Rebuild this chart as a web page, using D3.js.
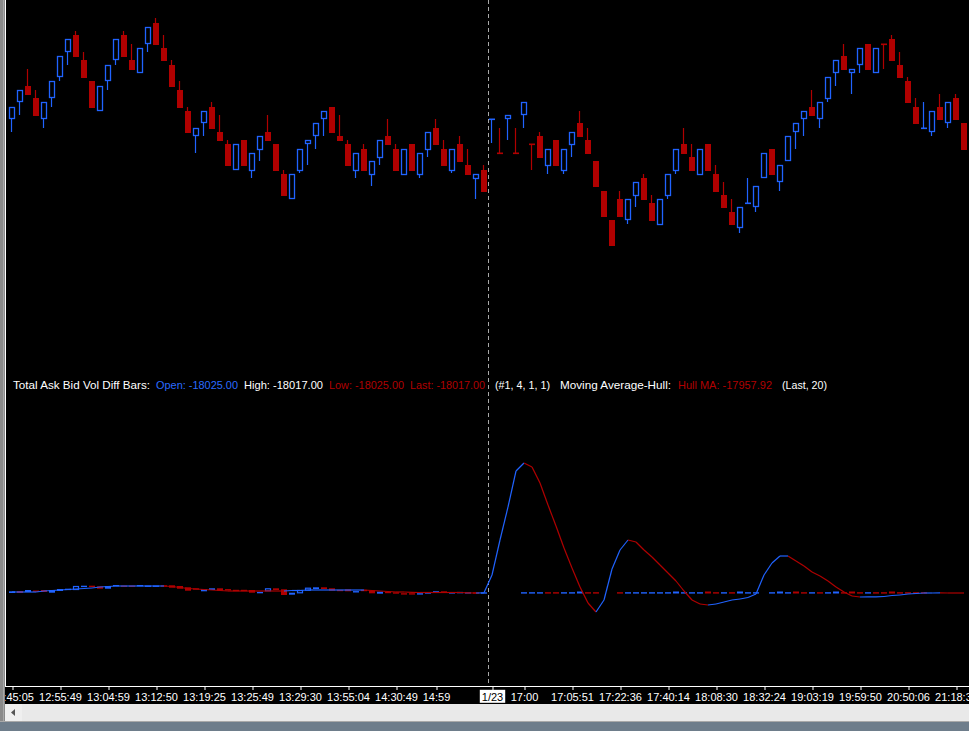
<!DOCTYPE html>
<html><head><meta charset="utf-8">
<script src="https://cdn.jsdelivr.net/npm/d3@7"></script>
<style>html,body{margin:0;padding:0;background:#000;overflow:hidden}svg{display:block}</style>
</head><body>
<svg id="c" width="969" height="731"></svg>
<script>
// ---- main price candles (price units) ----
const candleOpen = [181,198,214,202,181,202,223,248,265,240,219,189,219,240,265,240,227,256,277,252,235,210,189,164,177,193,168,156,130,160,129,150,168,156,126,101,129,156,164,181,193,164,156,129,151,125,142,164,151,125,156,125,150,172,151,129,156,135,121,130,180.5,147.5,181,147.5,185,156,164,134,160,129,155,177,160,139,109,80,101,80,104,122,97,75,104,129,156,143,125,156,126,105,88,72,97,93,122,151,118,139,168,181,193,181,201,227,244,227,235,256,227,256,261,235,219,193,172,168,193,177,202,177];
const candleHigh = [193,210,231,210,198,219,244,261,269,248,219,214,235,261,269,256,252,273,282,265,240,219,193,172,189,198,185,160,156,160,147,164,185,156,130,126,151,160,177,189,193,185,160,147,156,139,160,181,156,151,156,147,168,181,160,151,164,151,126,135,181,172,185,172,198,156,168,151,160,151,168,189,172,139,109,80,109,101,118,126,105,101,126,151,172,156,151,156,135,118,101,93,122,114,147,151,135,164,177,189,210,198,223,240,256,231,252,256,252,256,265,248,223,202,198,189,206,198,206,177];
const candleLow = [168,185,205,184,172,193,219,235,243,222,192,189,210,235,243,230,227,248,255,239,213,192,167,147,164,171,159,134,130,134,122,139,159,129,104,101,127,135,151,164,167,159,134,122,129,114,135,155,129,125,129,122,143,155,134,127,138,125,101,108,157,147,160,147,172,130,142,126,134,126,143,163,146,113,83,54,83,76,93,100,79,75,101,126,146,129,125,129,108,92,75,67,97,88,122,125,109,139,151,164,184,172,198,214,230,206,227,230,227,231,239,222,197,176,172,164,180,172,180,150];
const candleClose = [193,210,205,184,198,219,244,261,243,222,192,214,235,261,243,230,252,273,255,239,213,192,167,172,189,171,159,134,156,134,147,164,159,129,104,126,151,160,177,189,167,159,134,147,129,139,160,155,129,151,129,147,168,155,134,151,138,125,126,108,181,147,185,147,198,155.5,142,151,134,151,168,163,146,113,83,54,83,101,118,100,79,101,126,151,146,129,151,129,108,92,75,93,97.5,114,147,125,135,164,177,189,184,198,223,240,230,231,252,230,252,255.5,239,222,197,176,172.5,189,180,198,180,150];

// ---- lower panel: Total Ask Bid Vol Diff Bars ----
const barOpen = [-1,1,0,1.5,2,-0.7,1,3,2,6,6.3,5.7,3.3,6,6.5,6.5,5.7,6.2,6.2,6.7,6.7,6,4.7,3.7,0.7,2,3.7,2.9,2.2,2.2,2,-0.2,0.7,3.7,2.7,-2.7,-1.3,1.3,3,4.7,3.7,2.2,2.7,0.6,2.2,1.3,-1.7,0.2,-0.3,-1.2,-1.2,-1.5,-1.3,0.5,0.7,-0.5,-0.2,-0.5,-0.3,-1.3,
  null,null,null,null,-0.5,-0.5,-0.5,-0.2,-0.2,-0.5,-0.5,-1.5,-0.2,-0.2,null,null,-0.2,-0.5,-0.5,-0.5,-0.5,-0.5,-0.5,-1.5,-0.5,-0.5,-0.5,0.5,-0.2,-0.5,-0.2,-1.5,-0.5,-0.5,null,-0.5,-1.5,-0.5,0.5,-0.2,-0.5,-0.2,-0.5,-1.5,-0.2,0.5,-0.2,-0.5,-0.2,-0.2,0.5,-0.2,-0.2,-0.2,-0.2,null,null,null,null,null];
const barClose = [0.7,-1,2,1.2,0,2,3,3.3,6,6.3,6,3.3,6,7,6.2,6.2,7,6.5,6.5,5.7,4.3,3.3,1.3,2.5,3,3.7,1.3,2.6,1.9,1.9,-0.7,0.1,3.7,2,-3,-0.7,2,4.3,4.7,3,1.3,1.9,0.7,0.9,1.9,-1.3,0.3,-0.1,-1.3,-1.5,-1.5,-1.2,-0.3,0.8,-1,-0.2,0.1,-0.2,-1.3,-0.3,
  null,null,null,null,-0.2,-0.2,-0.2,-0.5,-0.5,-0.2,-0.2,0.5,-0.5,-0.5,null,null,-0.5,-0.2,-0.2,-0.2,-0.2,-0.2,-0.2,0.5,-0.2,-0.2,-0.2,-1.5,-0.5,-0.2,-0.5,0.5,-0.2,-0.2,null,-0.2,0.5,-0.2,-1.5,-0.5,-0.2,-0.5,-0.2,0.5,-0.5,-1.5,-0.5,-0.2,-0.5,-0.5,-1.5,-0.5,-0.5,-0.5,-0.5,null,null,null,null,null];
// ---- Moving Average-Hull ----
const hullMA = [0,0,0,0,1,1.5,2,2.5,3,3.5,4,5,5.5,6,6,6,6,6,6,6,5.5,4.5,3.5,3,2.5,2,1.5,1,1,1,1,1,1,1,1,1.5,1.5,2,2,2,2,2,2,2,2,1.5,1,0.5,0,0,-0.3,-0.5,-0.5,-0.5,-0.5,-0.5,-0.5,-0.8,-1,-0.8,
  17,52,85,121,129,125,109,87,66,44,24,5,-11,-20,-8,23,42,52,50,42,35,27,19,11,1,-8,-12,-13,-12,-10,-8,-7,-5.5,-2,17,29,36,36,31,26,20,16,11,5,0,-4,-5,-4.9,-4.8,-4.5,-3.5,-3,-2,-1.5,-1,-1,-0.8,-1,-1,-1];

// ---- time axis ----
const tickIndex = [0,6,12,18,24,30,36,42,48,53,60,64,70,76,82,88,94,100,106,112,118];
const tickLabels = ["12:45:05","12:55:49","13:04:59","13:12:50","13:19:25","13:25:49","13:29:30","13:55:04","14:30:49","14:59","1/23","17:00","17:05:51","17:22:36","17:40:14","18:08:30","18:32:24","19:03:19","19:59:50","20:50:06","21:18:35"];
const sessionBreakIndex = 59.5;
const dateLabel = "1/23";

// ---- legend ----
const legendItems = [
  {t:"Total Ask Bid Vol Diff Bars:", c:"#ffffff", x:13, w:137},
  {t:"Open: -18025.00", c:"#2a6bff", x:156, w:82},
  {t:"High: -18017.00", c:"#ffffff", x:244, w:79},
  {t:"Low: -18025.00", c:"#b00000", x:329, w:75},
  {t:"Last: -18017.00", c:"#b00000", x:410, w:75},
  {t:"(#1, 4, 1, 1)", c:"#ffffff", x:495, w:55},
  {t:"Moving Average-Hull:", c:"#ffffff", x:560, w:111},
  {t:"Hull MA: -17957.92", c:"#b00000", x:678, w:94},
  {t:"(Last, 20)", c:"#ffffff", x:782, w:45}
];

const BLUE = "#2063ff", RED = "#b00000";
const W = 969, H = 731;
const svg = d3.select("#c");
const FONT = "'Liberation Sans', Arial, sans-serif";

const n = candleOpen.length;
const x = d3.scaleLinear().domain([0, n - 1]).range([12, 12 + 8 * (n - 1)]);
const yP = d3.scaleLinear().domain([0, 300]).range([300, 0]);
const yI = d3.scaleLinear().domain([0, 100]).range([592, 492]);

svg.append("rect").attr("width", W).attr("height", H).attr("fill", "#000");

// session break dashed line
svg.append("line")
  .attr("x1", Math.round(x(sessionBreakIndex)) + 0.5).attr("x2", Math.round(x(sessionBreakIndex)) + 0.5)
  .attr("y1", 0).attr("y2", 686)
  .attr("stroke", "#a8a8a8").attr("stroke-width", 1).attr("stroke-dasharray", "4,3");

// candles
const cg = svg.append("g");
d3.range(n).forEach(i => {
  const o = candleOpen[i], c = candleClose[i], h = candleHigh[i], l = candleLow[i];
  const up = c > o;
  const col = up ? BLUE : RED;
  const cx = Math.round(x(i));
  const yt = yP(Math.max(o, c)), yb = yP(Math.min(o, c));
  cg.append("line").attr("x1", cx - 0.5).attr("x2", cx - 0.5)
    .attr("y1", yP(h)).attr("y2", yP(l)).attr("stroke", col).attr("stroke-width", 1.2);
  const bh = yb - yt;
  if (bh < 2) {
    cg.append("rect").attr("x", cx - 3).attr("y", Math.round(yt) - 0.5).attr("width", 6).attr("height", 1.6).attr("fill", col);
  } else if (up) {
    cg.append("rect").attr("x", cx - 2.5).attr("y", yt + 0.5).attr("width", 5).attr("height", bh - 1)
      .attr("fill", "#000").attr("stroke", col).attr("stroke-width", 1.3);
  } else {
    cg.append("rect").attr("x", cx - 3).attr("y", yt).attr("width", 6).attr("height", bh).attr("fill", col);
  }
});

// legend
const lg = svg.append("g").attr("font-family", FONT).attr("font-size", 11);
legendItems.forEach(d => {
  lg.append("text").attr("x", d.x).attr("y", 389).attr("fill", d.c)
    .attr("textLength", d.w).attr("lengthAdjust", "spacingAndGlyphs").text(d.t);
});

// indicator bars
const bg = svg.append("g");
d3.range(n).forEach(i => {
  const o = barOpen[i], c = barClose[i];
  if (o === null || c === null) return;
  const up = c > o;
  const col = up ? BLUE : RED;
  const cx = Math.round(x(i));
  const yt = yI(Math.max(o, c)), yb = yI(Math.min(o, c));
  const bh = yb - yt;
  if (up && bh >= 3) {
    bg.append("rect").attr("x", cx - 2.5).attr("y", yt + 0.5).attr("width", 5).attr("height", bh - 1)
      .attr("fill", "#000").attr("stroke", col).attr("stroke-width", 1.2);
  } else {
    bg.append("rect").attr("x", cx - 3).attr("y", yt).attr("width", 6).attr("height", Math.max(bh, 1.4)).attr("fill", col);
  }
});

// Hull MA line colored by slope
const hg = svg.append("g");
let prevCol = BLUE;
for (let i = 1; i < n; i++) {
  let col = prevCol;
  if (hullMA[i] > hullMA[i - 1]) col = BLUE;
  else if (hullMA[i] < hullMA[i - 1]) col = RED;
  prevCol = col;
  hg.append("path")
    .attr("d", d3.line().x(d => x(d[0])).y(d => yI(d[1]))([[i - 1, hullMA[i - 1]], [i, hullMA[i]]]))
    .attr("fill", "none").attr("stroke", col).attr("stroke-width", 1.2);
}

// time axis
const axis = d3.axisBottom(x).tickValues(tickIndex)
  .tickFormat((d, k) => tickLabels[k]).tickSize(4).tickSizeOuter(0).tickPadding(3);
const ag = svg.append("g").attr("transform", "translate(0,686)").call(axis);
ag.select(".domain").remove();
ag.selectAll(".tick line").attr("stroke", "#fff").attr("transform", "translate(0.5,0)");
ag.selectAll(".tick text").attr("fill", "#fff").attr("font-family", FONT).attr("font-size", 11).attr("dy", "0.71em");
ag.selectAll(".tick").filter((d, k) => tickLabels[k] === dateLabel).each(function () {
  const t = d3.select(this).select("text");
  t.attr("fill", "#000");
  const bb = t.node().getBBox();
  d3.select(this).insert("rect", "text")
    .attr("x", bb.x - 2).attr("y", bb.y - 1).attr("width", bb.width + 4).attr("height", bb.height + 1)
    .attr("fill", "#fff");
});
svg.append("line").attr("x1", 5).attr("x2", W).attr("y1", 686.5).attr("y2", 686.5).attr("stroke", "#fff").attr("stroke-width", 1);
svg.append("line").attr("x1", 5.5).attr("x2", 5.5).attr("y1", 0).attr("y2", 687).attr("stroke", "#fff").attr("stroke-width", 1);

// scrollbar & frame
svg.append("rect").attr("x", 5).attr("y", 704).attr("width", W - 5).attr("height", 18).attr("fill", "#e9e9e9");
svg.append("rect").attr("x", 5).attr("y", 704).attr("width", 17).attr("height", 18).attr("fill", "#efefef");
svg.append("path").attr("d", "M11,712.5 L15,709 L15,716 Z").attr("fill", "#555");
svg.append("rect").attr("x", 0).attr("y", 721).attr("width", W).attr("height", 1).attr("fill", "#a9a9a9");
svg.append("rect").attr("x", 0).attr("y", 722).attr("width", W).attr("height", 9).attr("fill", "#6e7d8b");
svg.append("rect").attr("x", 0).attr("y", 0).attr("width", 5).attr("height", 721).attr("fill", "#8a8a8a");
svg.append("rect").attr("x", 3).attr("y", 0).attr("width", 1).attr("height", 721).attr("fill", "#a8a8a8");
</script>
</body></html>
